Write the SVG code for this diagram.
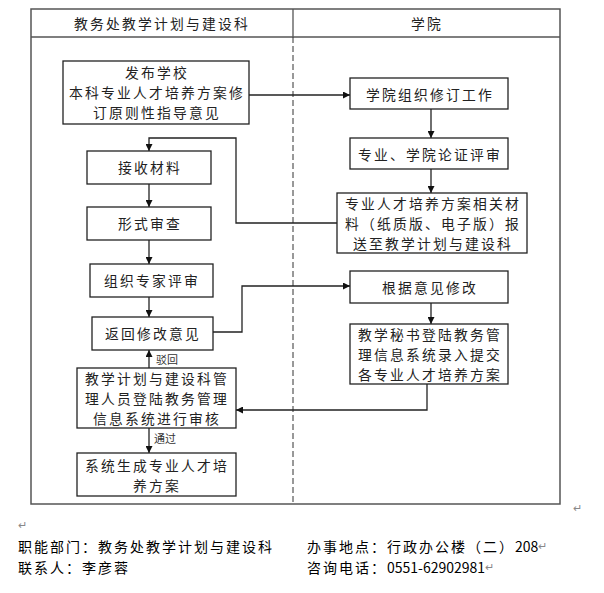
<svg xmlns="http://www.w3.org/2000/svg" width="604" height="593" viewBox="0 0 604 593">
<defs>
<marker id="ah" viewBox="0 0 10 10" refX="10" refY="5" markerWidth="7" markerHeight="7" markerUnits="userSpaceOnUse" orient="auto"><path d="M0,0 L10,5 L0,10 z" fill="#111"/></marker>
<style>
.box{fill:#fff;stroke:#222;stroke-width:1.3}
.t{font-family:"Noto Sans CJK SC","Noto Sans",sans-serif;font-size:13.8px;letter-spacing:2.2px;fill:#222;text-anchor:middle;dominant-baseline:central}
.s{font-family:"Noto Sans CJK SC","Noto Sans",sans-serif;font-size:11px;fill:#333;dominant-baseline:central}
.f{font-family:"Noto Sans CJK SC","Liberation Sans",sans-serif;font-size:14px;letter-spacing:2px;fill:#000;dominant-baseline:central}
.mk{font-family:"Liberation Sans",sans-serif;font-size:11px;fill:#888;dominant-baseline:central;letter-spacing:0}
.ca{fill:none;stroke:#222;stroke-width:1.3;marker-end:url(#ah)}
</style>
</defs>
<rect width="604" height="593" fill="#fff"/>
<g id="frame">
<rect x="31" y="9" width="529" height="495" fill="none" stroke="#555" stroke-width="1.5"/>
<line x1="31" y1="37" x2="560" y2="37" stroke="#555" stroke-width="1.5"/>
<line x1="293" y1="9" x2="293" y2="37" stroke="#555" stroke-width="1.3"/>
<line x1="293" y1="37" x2="293" y2="504" stroke="#333" stroke-width="1" stroke-dasharray="6,3"/>
<text class="t" x="162" y="23">教务处教学计划与建设科</text>
<text class="t" x="427" y="23">学院</text>
</g>
<g id="connectors">
<line class="ca" x1="249" y1="95" x2="350" y2="95"/>
<line class="ca" x1="431" y1="109" x2="431" y2="138"/>
<line class="ca" x1="431" y1="169" x2="431" y2="193"/>
<polyline class="ca" points="337,223 236,223 236,138 149,138 149,151"/>
<line class="ca" x1="149" y1="184" x2="149" y2="207"/>
<line class="ca" x1="149" y1="240" x2="149" y2="264"/>
<line class="ca" x1="149" y1="297" x2="149" y2="317"/>
<polyline class="ca" points="213,332 242,332 242,286 350,286"/>
<line class="ca" x1="431" y1="303" x2="431" y2="324"/>
<polyline class="ca" points="427,384 427,410 236,410"/>
<line class="ca" x1="149" y1="368" x2="149" y2="350"/>
<text class="s" x="156" y="359">驳回</text>
<line class="ca" x1="149" y1="428" x2="149" y2="453"/>
<text class="s" x="154" y="438">通过</text>
</g>
<g id="n1"><rect class="box" x="63" y="61" width="186" height="63"/>
<text class="t" x="157" y="72">发布学校</text><text class="t" x="157" y="92">本科专业人才培养方案修</text><text class="t" x="157" y="112">订原则性指导意见</text></g>
<g id="n2"><rect class="box" x="350" y="78" width="158" height="31"/><text class="t" x="430" y="94">学院组织修订工作</text></g>
<g id="n3"><rect class="box" x="350" y="138" width="158" height="31"/><text class="t" x="430" y="154">专业、学院论证评审</text></g>
<g id="n4"><rect class="box" x="337" y="193" width="190" height="60"/>
<text class="t" x="433" y="203">专业人才培养方案相关材</text><text class="t" x="433" y="223">料（纸质版、电子版）报</text><text class="t" x="433" y="243">送至教学计划与建设科</text></g>
<g id="n5"><rect class="box" x="87" y="151" width="124" height="33"/><text class="t" x="150" y="167">接收材料</text></g>
<g id="n6"><rect class="box" x="87" y="207" width="124" height="33"/><text class="t" x="150" y="223">形式审查</text></g>
<g id="n7"><rect class="box" x="90" y="264" width="123" height="33"/><text class="t" x="152" y="280">组织专家评审</text></g>
<g id="n8"><rect class="box" x="92" y="317" width="121" height="33"/><text class="t" x="153" y="333">返回修改意见</text></g>
<g id="n9"><rect class="box" x="350" y="271" width="158" height="32"/><text class="t" x="430" y="287">根据意见修改</text></g>
<g id="n10"><rect class="box" x="350" y="324" width="158" height="60"/>
<text class="t" x="430" y="334">教学秘书登陆教务管</text><text class="t" x="430" y="354">理信息系统录入提交</text><text class="t" x="430" y="374">各专业人才培养方案</text></g>
<g id="n11"><rect class="box" x="77" y="368" width="159" height="60"/>
<text class="t" x="157" y="378">教学计划与建设科管</text><text class="t" x="157" y="398">理人员登陆教务管理</text><text class="t" x="157" y="418">信息系统进行审核</text></g>
<g id="n12"><rect class="box" x="77" y="453" width="159" height="43"/>
<text class="t" x="157" y="465">系统生成专业人才培</text><text class="t" x="157" y="485">养方案</text></g>
<g id="footer">
<text class="mk" x="573" y="508">↵</text>
<text class="mk" x="18" y="525">↵</text>
<text class="f" x="18" y="546">职能部门：教务处教学计划与建设科</text>
<text class="f" x="18" y="567">联系人：李彦蓉</text>
<text class="f" x="307" y="546">办事地点：行政办公楼（二）<tspan letter-spacing="0">208</tspan><tspan class="mk" font-size="11">↵</tspan></text>
<text class="f" x="307" y="567">咨询电话：<tspan letter-spacing="0">0551-62902981</tspan><tspan class="mk" font-size="11">↵</tspan></text>
</g>
</svg>
